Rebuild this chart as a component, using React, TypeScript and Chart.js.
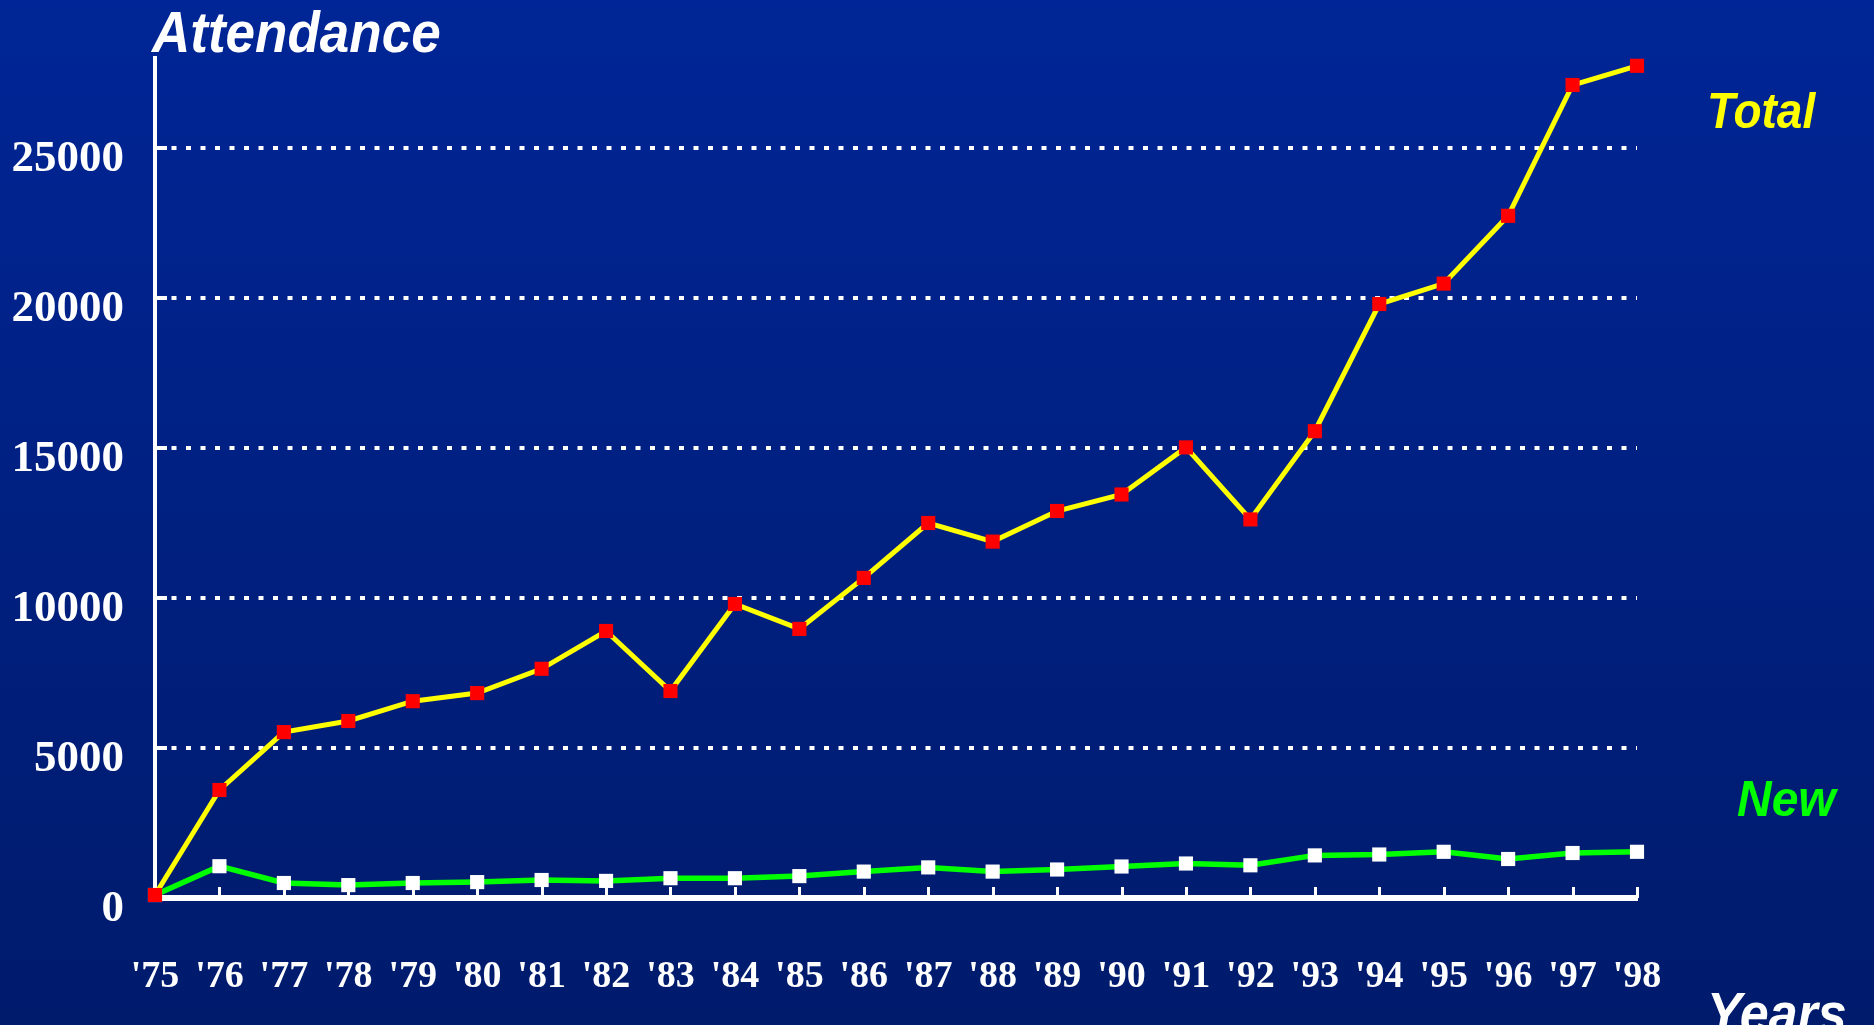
import React, { useEffect, useRef } from "react";
import { Chart, registerables } from "chart.js";

Chart.register(...registerables);

const years = ["'75", "'76", "'77", "'78", "'79", "'80", "'81", "'82", "'83", "'84", "'85", "'86", "'87", "'88", "'89", "'90", "'91", "'92", "'93", "'94", "'95", "'96", "'97", "'98"];
const totalAttendance = [100, 3600, 5530, 5900, 6560, 6830, 7640, 8900, 6900, 9800, 8970, 10670, 12500, 11880, 12900, 13450, 15020, 12620, 15560, 19800, 20480, 22740, 27100, 27740];
const newAttendance = [100, 1060, 500, 430, 500, 530, 600, 570, 660, 660, 730, 880, 1020, 880, 950, 1050, 1150, 1090, 1420, 1450, 1540, 1300, 1500, 1540];
const yTicks = [0, 5000, 10000, 15000, 20000, 25000];
const yMax = 28000;

const W = 1874;
const H = 1025;

const decorPlugin = {
  id: "decor",
  beforeDraw(chart: any) {
    const { ctx } = chart;
    ctx.save();
    const g = ctx.createLinearGradient(0, 0, 0, H);
    g.addColorStop(0, "#002596");
    g.addColorStop(1, "#001b6c");
    ctx.fillStyle = g;
    ctx.fillRect(0, 0, W, H);
    ctx.restore();
  },
  beforeDatasetsDraw(chart: any) {
    const { ctx, scales } = chart;
    const xs = scales.x;
    const ys = scales.y;
    const y0 = ys.getPixelForValue(0);
    ctx.save();
    ctx.strokeStyle = "#ffffff";
    ctx.lineWidth = 3;
    ctx.setLineDash([]);
    for (let i = 1; i < years.length; i++) {
      const x = Math.round(xs.getPixelForValue(i)) + 0.5;
      ctx.beginPath();
      ctx.moveTo(x, y0 - 11);
      ctx.lineTo(x, y0);
      ctx.stroke();
    }
    ctx.lineWidth = 4;
    const left = chart.chartArea.left;
    ys.ticks.forEach((t: any) => {
      if (t.value <= 0) return;
      const y = ys.getPixelForValue(t.value);
      ctx.beginPath();
      ctx.moveTo(left, y);
      ctx.lineTo(left + 12, y);
      ctx.stroke();
    });
    ctx.restore();
  },
  afterDraw(chart: any) {
    const { ctx } = chart;
    const drawText = (text: string, x: number, y: number, size: number, color: string, sy: number) => {
      ctx.save();
      ctx.font = `italic bold ${size}px 'Liberation Sans', Arial, sans-serif`;
      ctx.fillStyle = color;
      ctx.textAlign = "left";
      ctx.textBaseline = "alphabetic";
      ctx.translate(x, y);
      ctx.scale(1, sy);
      ctx.fillText(text, 0, 0);
      ctx.restore();
    };
    drawText("Attendance", 152, 52, 53, "#ffffff", 1.1);
    drawText("Total", 1707, 128, 46, "#ffff00", 1.09);
    drawText("New", 1737, 816, 48, "#00ff00", 1.06);
    drawText("Years", 1707, 1033, 52, "#ffffff", 1.1);
  },
};

export default function App() {
  const ref = useRef<HTMLCanvasElement | null>(null);

  useEffect(() => {
    document.body.style.margin = "0";
    const canvas = ref.current;
    if (!canvas) return;
    const chart = new Chart(canvas, {
      type: "line",
      data: {
        labels: years,
        datasets: [
          {
            label: "Total",
            data: totalAttendance,
            borderColor: "#ffff00",
            borderWidth: 5,
            backgroundColor: "#ff0000",
            pointStyle: "rect",
            pointRadius: 10,
            pointHoverRadius: 10,
            pointBackgroundColor: "#ff0000",
            pointBorderWidth: 0,
            tension: 0,
            clip: false,
          },
          {
            label: "New",
            data: newAttendance,
            borderColor: "#00ff00",
            borderWidth: 5.5,
            backgroundColor: "#ffffff",
            pointStyle: "rect",
            pointRadius: 10,
            pointHoverRadius: 10,
            pointBackgroundColor: "#ffffff",
            pointBorderWidth: 0,
            tension: 0,
            clip: false,
          },
        ],
      },
      options: {
        animation: false,
        responsive: false,
        devicePixelRatio: 1,
        layout: { padding: { left: 0, right: 237, top: 57, bottom: 0 } },
        plugins: {
          legend: { display: false },
          tooltip: { enabled: false },
          title: { display: false },
        },
        scales: {
          x: {
            type: "category",
            offset: false,
            afterFit: (s: any) => {
              s.height = 127;
            },
            grid: { display: false, drawTicks: false },
            border: { display: true, color: "#ffffff", width: 6 },
            ticks: {
              color: "#ffffff",
              font: { family: "'Liberation Serif', 'Times New Roman', serif", weight: "bold", size: 38 },
              padding: 56,
              maxRotation: 0,
              autoSkip: false,
            },
          },
          y: {
            min: 0,
            max: yMax,
            afterFit: (s: any) => {
              s.width = 155;
            },
            afterBuildTicks: (s: any) => {
              s.ticks = yTicks.map((v) => ({ value: v }));
            },
            grid: {
              color: "#ffffff",
              lineWidth: 4,
              drawTicks: false,
            },
            border: { display: true, color: "#ffffff", width: 4, dash: [5, 9.5] },
            ticks: {
              color: "#ffffff",
              font: { family: "'Liberation Serif', 'Times New Roman', serif", weight: "bold", size: 45 },
              padding: 31,
              labelOffset: 11,
              callback: (v: any) => String(v),
            },
          },
        },
      },
      plugins: [decorPlugin],
    });
    return () => chart.destroy();
  }, []);

  return (
    <div style={{ width: W, height: H, overflow: "hidden" }}>
      <canvas ref={ref} width={W} height={H} style={{ display: "block", width: W, height: H }} />
    </div>
  );
}
